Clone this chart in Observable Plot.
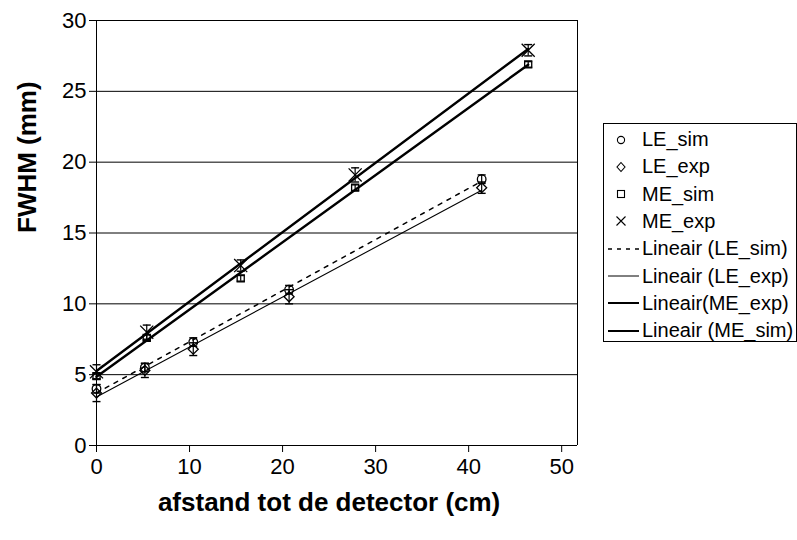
<!DOCTYPE html>
<html>
<head>
<meta charset="utf-8">
<script src="https://cdn.jsdelivr.net/npm/d3@7"></script>
<script src="https://cdn.jsdelivr.net/npm/@observablehq/plot@0.6"></script>
<style>
  body { margin: 0; background: #fff; font-family: "Liberation Sans", Arial, sans-serif; }
  #wrap { position: relative; width: 797px; height: 540px; }
  #legend { position: absolute; left: 603px; top: 123px; width: 194px; height: 219px;
            border: 1px solid #000; box-sizing: border-box; background: #fff; }
  .row { position: absolute; left: 0; height: 27px; display: flex; align-items: center; font-size: 20px; color: #000; white-space: nowrap; }
  .row svg { display: block; margin-right: 3px; }
</style>
</head>
<body>
<div id="wrap"><div id="legend"></div></div>
<script>
// distance to the detector (cm) for each series
const leX = [0, 5.2, 10.4, 20.7, 41.4];
const meX = [0, 5.4, 15.5, 27.8, 46.4];
// FWHM (mm)
const leSim = [4.0, 5.5, 7.3, 11.0, 18.8];
const leExp = [3.7, 5.3, 6.8, 10.5, 18.2];
const meSim = [4.9, 7.6, 11.8, 18.2, 26.9];
const meExp = [5.2, 8.0, 12.7, 19.1, 27.9];
// error bar half-widths (mm)
const leSimErr = [0.3, 0.3, 0.3, 0.3, 0.3];
const leExpErr = [0.6, 0.5, 0.45, 0.5, 0.4];
const meSimErr = [0.2, 0.2, 0.2, 0.2, 0.2];
const meExpErr = [0.5, 0.5, 0.4, 0.5, 0.4];
const yTicks = [0, 5, 10, 15, 20, 25, 30];
const xTicks = [0, 10, 20, 30, 40, 50];
// the plotting area runs a little past the last labelled tick
const xMax = 51.7;

const rows = (xs, ys, es) => xs.map((x, i) => ({x, y: ys[i], e: es[i]}));
const series = {
  LE_sim: rows(leX, leSim, leSimErr),
  LE_exp: rows(leX, leExp, leExpErr),
  ME_sim: rows(meX, meSim, meSimErr),
  ME_exp: rows(meX, meExp, meExpErr)
};

// horizontal cap for the error bars
const cap = {
  draw(ctx, size) {
    const w = Math.sqrt(size / Math.PI);
    ctx.moveTo(-w, 0);
    ctx.lineTo(w, 0);
  }
};

const errorMarks = (data) => [
  Plot.ruleX(data, {x: "x", y1: d => d.y - d.e, y2: d => d.y + d.e, stroke: "#000", strokeWidth: 1.2}),
  Plot.dot(data, {x: "x", y: d => d.y - d.e, symbol: cap, r: 4, stroke: "#000", strokeWidth: 1.4}),
  Plot.dot(data, {x: "x", y: d => d.y + d.e, symbol: cap, r: 4, stroke: "#000", strokeWidth: 1.4})
];

const chart = Plot.plot({
  width: 797,
  height: 540,
  marginLeft: 96,
  marginRight: 220,
  marginTop: 20,
  marginBottom: 95,
  style: {fontFamily: "'Liberation Sans', Arial, sans-serif", fontSize: "22px", color: "#000", background: "#fff"},
  x: {domain: [0, xMax]},
  y: {domain: [0, 30]},
  marks: [
    Plot.ruleY(yTicks.filter(t => t > 0), {stroke: "#000", strokeWidth: 1}),
    Plot.ruleX([xMax], {stroke: "#000", strokeWidth: 1}),
    Plot.axisY(yTicks, {tickSize: 7, tickPadding: 3, fontSize: 22, label: null}),
    Plot.axisX(xTicks, {tickSize: 7, tickPadding: 6, fontSize: 22, label: null}),
    Plot.ruleY([0], {stroke: "#000", strokeWidth: 1}),
    Plot.ruleX([0], {stroke: "#000", strokeWidth: 1}),
    // linear trend lines
    Plot.linearRegressionY(series.LE_sim, {x: "x", y: "y", ci: 0, stroke: "#000", strokeWidth: 1.5, strokeDasharray: "4,6"}),
    Plot.linearRegressionY(series.LE_exp, {x: "x", y: "y", ci: 0, stroke: "#000", strokeWidth: 1.1}),
    Plot.linearRegressionY(series.ME_exp, {x: "x", y: "y", ci: 0, stroke: "#000", strokeWidth: 2.4}),
    Plot.linearRegressionY(series.ME_sim, {x: "x", y: "y", ci: 0, stroke: "#000", strokeWidth: 2.4}),
    // error bars
    ...errorMarks(series.LE_sim),
    ...errorMarks(series.LE_exp),
    ...errorMarks(series.ME_sim),
    ...errorMarks(series.ME_exp),
    // markers
    Plot.dot(series.LE_sim, {x: "x", y: "y", symbol: "circle", r: 4.3, stroke: "#000", strokeWidth: 1.3, fill: "none"}),
    Plot.dot(series.LE_exp, {x: "x", y: "y", symbol: "diamond2", r: 4.5, stroke: "#000", strokeWidth: 1.3, fill: "none"}),
    Plot.dot(series.ME_sim, {x: "x", y: "y", symbol: "square2", r: 4.5, stroke: "#000", strokeWidth: 1.3, fill: "none"}),
    Plot.dot(series.ME_exp, {x: "x", y: "y", symbol: "times", r: 6, stroke: "#000", strokeWidth: 1.3}),
    // axis titles
    Plot.text(["FWHM (mm)"], {frameAnchor: "left", dx: -69, rotate: -90, fontSize: 26, fontWeight: "bold"}),
    Plot.text(["afstand tot de detector (cm)"], {x: 25, frameAnchor: "bottom", dy: 65, fontSize: 26, fontWeight: "bold"})
  ]
});
document.getElementById("wrap").prepend(chart);

// legend
const legendItems = [
  {label: "LE_sim", kind: "circle"},
  {label: "LE_exp", kind: "diamond"},
  {label: "ME_sim", kind: "square"},
  {label: "ME_exp", kind: "times"},
  {label: "Lineair (LE_sim)", kind: "dash"},
  {label: "Lineair (LE_exp)", kind: "thin"},
  {label: "Lineair(ME_exp)", kind: "thick"},
  {label: "Lineair (ME_sim)", kind: "thick"}
];
const symPath = {
  circle: '<circle cx="17" cy="10" r="3.6" fill="none" stroke="#000" stroke-width="1.1"/>',
  diamond: '<path d="M17,5.5L21,10L17,14.5L13,10Z" fill="none" stroke="#000" stroke-width="1.1"/>',
  square: '<rect x="13.5" y="6.5" width="7" height="7" fill="none" stroke="#000" stroke-width="1.1"/>',
  times: '<path d="M12.5,5.5L21.5,14.5M21.5,5.5L12.5,14.5" stroke="#000" stroke-width="1.1"/>',
  dash: '<line x1="4" y1="10" x2="35" y2="10" stroke="#000" stroke-width="1.4" stroke-dasharray="4,5"/>',
  thin: '<line x1="4" y1="10" x2="35" y2="10" stroke="#000" stroke-width="1"/>',
  thick: '<line x1="4" y1="10" x2="35" y2="10" stroke="#000" stroke-width="2"/>'
};
const legend = document.getElementById("legend");
legendItems.forEach((it, i) => {
  const row = document.createElement("div");
  row.className = "row";
  row.style.top = (2 + i * 27.3) + "px";
  row.innerHTML = `<svg width="35" height="20">${symPath[it.kind]}</svg><span>${it.label}</span>`;
  legend.appendChild(row);
});
</script>
</body>
</html>
